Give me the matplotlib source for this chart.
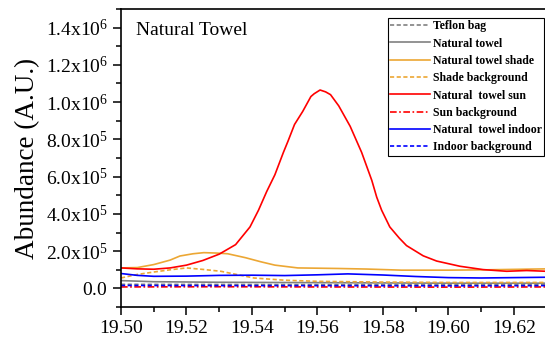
import matplotlib
matplotlib.use("Agg")
import matplotlib.pyplot as plt
from matplotlib.ticker import MultipleLocator

plt.rcParams['font.family'] = ['Liberation Serif', 'DejaVu Serif']
plt.rcParams['mathtext.fontset'] = 'custom'
plt.rcParams['mathtext.rm'] = 'Liberation Serif'

# retention time (min) and abundance
sun_x = [19.500, 19.505, 19.510, 19.515, 19.520, 19.525, 19.530, 19.535, 19.5394,
         19.542, 19.5445, 19.547, 19.5496, 19.551, 19.553, 19.5555, 19.558, 19.559,
         19.5608, 19.5625, 19.564, 19.5665, 19.570, 19.5735, 19.5766, 19.5781,
         19.5796, 19.5821, 19.5850, 19.5872, 19.5923, 19.5964, 19.6035, 19.6106,
         19.6178, 19.6239, 19.630]
sun_y = [1.10e5, 1.05e5, 1.03e5, 1.10e5, 1.25e5, 1.50e5, 1.84e5, 2.35e5, 3.3e5,
         4.2e5, 5.2e5, 6.1e5, 7.3e5, 7.9e5, 8.8e5, 9.5e5, 1.03e6, 1.045e6,
         1.065e6, 1.055e6, 1.04e6, 9.8e5, 8.7e5, 7.3e5, 5.8e5, 4.9e5,
         4.2e5, 3.3e5, 2.7e5, 2.3e5, 1.75e5, 1.47e5, 1.19e5, 1.01e5,
         9.2e4, 9.6e4, 9.2e4]

shade_x = [19.500, 19.505, 19.510, 19.515, 19.518, 19.522, 19.5253, 19.529, 19.5326,
           19.5380, 19.5427, 19.547, 19.554, 19.5663, 19.575, 19.5857, 19.600,
           19.612, 19.630]
shade_y = [1.10e5, 1.12e5, 1.28e5, 1.52e5, 1.74e5, 1.86e5, 1.92e5, 1.90e5, 1.86e5,
           1.65e5, 1.43e5, 1.25e5, 1.10e5, 1.07e5, 1.04e5, 9.8e4, 9.8e4,
           1.0e5, 1.05e5]

shade_bg_x = [19.500, 19.505, 19.510, 19.515, 19.520, 19.525, 19.5305, 19.5406,
              19.550, 19.560, 19.580, 19.600, 19.630]
shade_bg_y = [5.6e4, 7.5e4, 8.8e4, 1.0e5, 1.1e5, 1.02e5, 9.2e4, 5.6e4,
              4.4e4, 3.8e4, 3.4e4, 3.2e4, 3.2e4]

indoor_x = [19.500, 19.505, 19.510, 19.520, 19.530, 19.540, 19.550, 19.560,
            19.5693, 19.580, 19.590, 19.600, 19.610, 19.620, 19.630]
indoor_y = [8.0e4, 7.0e4, 6.5e4, 6.6e4, 7.0e4, 7.1e4, 6.9e4, 7.3e4,
            7.8e4, 7.2e4, 6.4e4, 5.8e4, 5.6e4, 5.8e4, 6.0e4]

towel_x = [19.500, 19.510, 19.530, 19.560, 19.600, 19.630]
towel_y = [4.2e4, 3.6e4, 3.3e4, 3.1e4, 2.8e4, 2.8e4]

teflon_x = [19.500, 19.530, 19.560, 19.600, 19.630]
teflon_y = [2.2e4, 2.1e4, 2.0e4, 2.0e4, 2.1e4]

sun_bg_x = [19.500, 19.530, 19.560, 19.600, 19.630]
sun_bg_y = [8e3, 9e3, 8e3, 7e3, 8e3]

indoor_bg_x = [19.500, 19.530, 19.560, 19.600, 19.630]
indoor_bg_y = [1.6e4, 1.5e4, 1.5e4, 1.4e4, 1.5e4]

yticks = [0, 2e5, 4e5, 6e5, 8e5, 1.0e6, 1.2e6, 1.4e6]
ytick_labels = [r'$\mathregular{0.0}$', r'$\mathregular{2.0x10^{5}}$',
                r'$\mathregular{4.0x10^{5}}$', r'$\mathregular{6.0x10^{5}}$',
                r'$\mathregular{8.0x10^{5}}$', r'$\mathregular{1.0x10^{6}}$',
                r'$\mathregular{1.2x10^{6}}$', r'$\mathregular{1.4x10^{6}}$']
xticks = [19.50, 19.52, 19.54, 19.56, 19.58, 19.60, 19.62]
xtick_labels = ['19.50', '19.52', '19.54', '19.56', '19.58', '19.60', '19.62']

orange = '#eca734'
lw = 1.2

fig = plt.figure(figsize=(5.45, 3.45), dpi=100)
ax = fig.add_axes([0.222, 0.110, 0.781, 0.864])

ax.plot(teflon_x, teflon_y, color='#808080', ls=(0, (2.5, 1.5)), lw=lw, label='Teflon bag')
ax.plot(towel_x, towel_y, color='#808080', lw=lw, label='Natural towel')
ax.plot(shade_x, shade_y, color=orange, lw=lw, label='Natural towel shade')
ax.plot(shade_bg_x, shade_bg_y, color=orange, ls=(0, (2.5, 1.5)), lw=lw, label='Shade background')
ax.plot(sun_x, sun_y, color='#ff0000', lw=lw, label='Natural  towel sun')
ax.plot(sun_bg_x, sun_bg_y, color='#ff0000', ls=(0, (4, 1.5, 1, 1.5)), lw=lw, label='Sun background')
ax.plot(indoor_x, indoor_y, color='#0000ff', lw=lw, label='Natural  towel indoor')
ax.plot(indoor_bg_x, indoor_bg_y, color='#0000ff', ls=(0, (2.5, 1.5)), lw=lw, label='Indoor background')

ax.set_xlim(19.50, 19.63)
ax.set_ylim(-1e5, 1.5e6)
ax.set_xticks(xticks)
ax.set_xticklabels(xtick_labels, fontsize=14)
ax.set_yticks(yticks)
ax.set_yticklabels(ytick_labels, fontsize=14)
ax.xaxis.set_minor_locator(MultipleLocator(0.01))
ax.yaxis.set_minor_locator(MultipleLocator(1e5))
ax.tick_params(which='major', direction='out', length=6, width=1.1)
ax.tick_params(which='minor', direction='out', length=3.5, width=1.1)
for s in ax.spines.values():
    s.set_linewidth(1.2)

ax.set_ylabel('Abundance (A.U.)', fontsize=19.5, labelpad=4)
ax.text(0.035, 0.955, 'Natural Towel', transform=ax.transAxes, fontsize=14,
        ha='left', va='top')

leg = ax.legend(loc='upper left', bbox_to_anchor=(0.627, 0.97),
                prop={'weight': 'bold', 'size': 8.5}, frameon=True, fancybox=False,
                edgecolor='black', framealpha=1, handlelength=3.4,
                handletextpad=0.2, labelspacing=0.45, borderpad=0.2,
                borderaxespad=0)
leg.get_frame().set_linewidth(0.8)

fig.savefig('out.png', dpi=100)
